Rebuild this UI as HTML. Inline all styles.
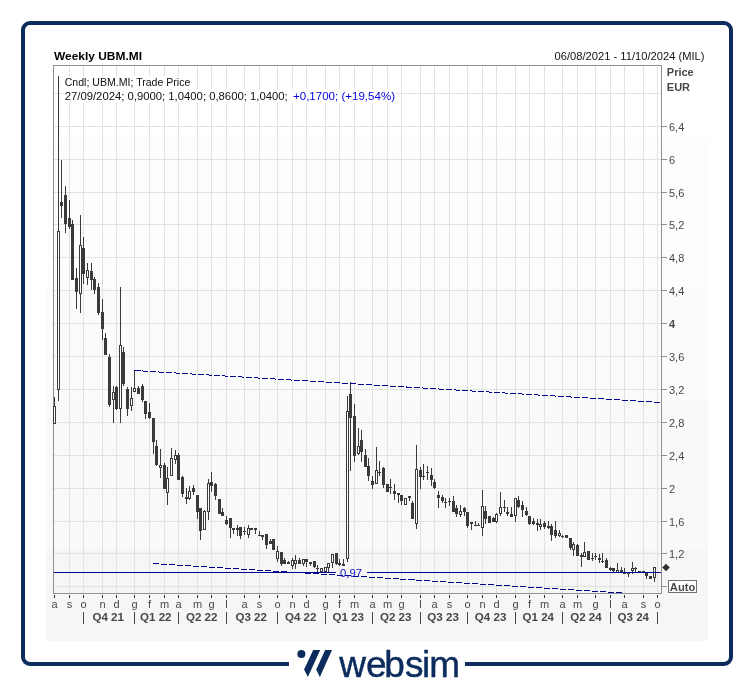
<!DOCTYPE html>
<html lang="it"><head><meta charset="utf-8"><title>Weekly UBM.MI</title>
<style>
html,body{margin:0;padding:0;background:#fff;}
body{width:754px;height:687px;position:relative;overflow:hidden;font-family:"Liberation Sans",sans-serif;}
#frame{position:absolute;left:21px;top:21px;width:704px;height:637px;border:4px solid #0b2c5c;border-radius:9px;}
#gap{position:absolute;left:289px;top:655px;width:176px;height:16px;background:#fff;}
#chartbg{position:absolute;left:46px;top:44px;width:662px;height:597px;background:linear-gradient(to bottom,#ffffff 0,#ffffff 94px,#fdfdfd 94px,#fdfdfd 244px,#fbfbfb 244px,#fbfbfb 356px,#f9f9f9 356px,#f9f9f9 506px,#f6f6f6 506px,#f6f6f6 100%);}
svg{position:absolute;left:0;top:0;}
text{font-family:"Liberation Sans",sans-serif;font-size:11px;}
.b{font-weight:bold;}
</style></head><body>
<div id="frame"></div><div id="gap"></div><div id="chartbg"></div>
<svg width="754" height="687" viewBox="0 0 754 687">
<g shape-rendering="crispEdges" fill="#e2e2e2">
<rect x="54" y="586" width="607" height="1"/>
<rect x="54" y="553" width="607" height="1"/>
<rect x="54" y="521" width="607" height="1"/>
<rect x="54" y="488" width="607" height="1"/>
<rect x="54" y="455" width="607" height="1"/>
<rect x="54" y="422" width="607" height="1"/>
<rect x="54" y="389" width="607" height="1"/>
<rect x="54" y="356" width="607" height="1"/>
<rect x="54" y="323" width="607" height="1"/>
<rect x="54" y="290" width="607" height="1"/>
<rect x="54" y="257" width="607" height="1"/>
<rect x="54" y="224" width="607" height="1"/>
<rect x="54" y="192" width="607" height="1"/>
<rect x="54" y="159" width="607" height="1"/>
<rect x="54" y="126" width="607" height="1"/>
<rect x="54" y="93" width="607" height="1"/>
<rect x="69" y="66" width="1" height="527"/>
<rect x="83" y="66" width="1" height="527"/>
<rect x="102" y="66" width="1" height="527"/>
<rect x="116" y="66" width="1" height="527"/>
<rect x="134" y="66" width="1" height="527"/>
<rect x="149" y="66" width="1" height="527"/>
<rect x="164" y="66" width="1" height="527"/>
<rect x="178" y="66" width="1" height="527"/>
<rect x="197" y="66" width="1" height="527"/>
<rect x="211" y="66" width="1" height="527"/>
<rect x="226" y="66" width="1" height="527"/>
<rect x="244" y="66" width="1" height="527"/>
<rect x="259" y="66" width="1" height="527"/>
<rect x="277" y="66" width="1" height="527"/>
<rect x="292" y="66" width="1" height="527"/>
<rect x="306" y="66" width="1" height="527"/>
<rect x="325" y="66" width="1" height="527"/>
<rect x="339" y="66" width="1" height="527"/>
<rect x="354" y="66" width="1" height="527"/>
<rect x="372" y="66" width="1" height="527"/>
<rect x="387" y="66" width="1" height="527"/>
<rect x="401" y="66" width="1" height="527"/>
<rect x="420" y="66" width="1" height="527"/>
<rect x="434" y="66" width="1" height="527"/>
<rect x="449" y="66" width="1" height="527"/>
<rect x="467" y="66" width="1" height="527"/>
<rect x="482" y="66" width="1" height="527"/>
<rect x="496" y="66" width="1" height="527"/>
<rect x="515" y="66" width="1" height="527"/>
<rect x="529" y="66" width="1" height="527"/>
<rect x="544" y="66" width="1" height="527"/>
<rect x="562" y="66" width="1" height="527"/>
<rect x="577" y="66" width="1" height="527"/>
<rect x="595" y="66" width="1" height="527"/>
<rect x="610" y="66" width="1" height="527"/>
<rect x="624" y="66" width="1" height="527"/>
<rect x="643" y="66" width="1" height="527"/>
<rect x="657" y="66" width="1" height="527"/>
</g>
<g shape-rendering="crispEdges" fill="#909090">
<rect x="53" y="65" width="609" height="1"/>
<rect x="53" y="593" width="609" height="1"/>
<rect x="53" y="65" width="1" height="529"/>
<rect x="661" y="65" width="1" height="529"/>
<rect x="662" y="586" width="5" height="1"/>
<rect x="662" y="553" width="5" height="1"/>
<rect x="662" y="521" width="5" height="1"/>
<rect x="662" y="488" width="5" height="1"/>
<rect x="662" y="455" width="5" height="1"/>
<rect x="662" y="422" width="5" height="1"/>
<rect x="662" y="389" width="5" height="1"/>
<rect x="662" y="356" width="5" height="1"/>
<rect x="662" y="323" width="5" height="1"/>
<rect x="662" y="290" width="5" height="1"/>
<rect x="662" y="257" width="5" height="1"/>
<rect x="662" y="224" width="5" height="1"/>
<rect x="662" y="192" width="5" height="1"/>
<rect x="662" y="159" width="5" height="1"/>
<rect x="662" y="126" width="5" height="1"/>
</g>
<g shape-rendering="crispEdges" fill="#303030">
<rect x="54" y="595" width="1" height="3"/>
<rect x="69" y="595" width="1" height="3"/>
<rect x="83" y="595" width="1" height="3"/>
<rect x="102" y="595" width="1" height="3"/>
<rect x="116" y="595" width="1" height="3"/>
<rect x="134" y="595" width="1" height="3"/>
<rect x="149" y="595" width="1" height="3"/>
<rect x="164" y="595" width="1" height="3"/>
<rect x="178" y="595" width="1" height="3"/>
<rect x="197" y="595" width="1" height="3"/>
<rect x="211" y="595" width="1" height="3"/>
<rect x="226" y="595" width="1" height="3"/>
<rect x="244" y="595" width="1" height="3"/>
<rect x="259" y="595" width="1" height="3"/>
<rect x="277" y="595" width="1" height="3"/>
<rect x="292" y="595" width="1" height="3"/>
<rect x="306" y="595" width="1" height="3"/>
<rect x="325" y="595" width="1" height="3"/>
<rect x="339" y="595" width="1" height="3"/>
<rect x="354" y="595" width="1" height="3"/>
<rect x="372" y="595" width="1" height="3"/>
<rect x="387" y="595" width="1" height="3"/>
<rect x="401" y="595" width="1" height="3"/>
<rect x="420" y="595" width="1" height="3"/>
<rect x="434" y="595" width="1" height="3"/>
<rect x="449" y="595" width="1" height="3"/>
<rect x="467" y="595" width="1" height="3"/>
<rect x="482" y="595" width="1" height="3"/>
<rect x="496" y="595" width="1" height="3"/>
<rect x="515" y="595" width="1" height="3"/>
<rect x="529" y="595" width="1" height="3"/>
<rect x="544" y="595" width="1" height="3"/>
<rect x="562" y="595" width="1" height="3"/>
<rect x="577" y="595" width="1" height="3"/>
<rect x="595" y="595" width="1" height="3"/>
<rect x="610" y="595" width="1" height="3"/>
<rect x="624" y="595" width="1" height="3"/>
<rect x="643" y="595" width="1" height="3"/>
<rect x="657" y="595" width="1" height="3"/>
</g>
<g shape-rendering="crispEdges" fill="#ffffff"><rect x="64" y="76" width="127" height="13"/><rect x="64" y="89" width="332" height="14"/></g>
<g shape-rendering="crispEdges">
<rect x="54" y="397" width="1" height="9" fill="#3a3a3a"/>
<rect x="53" y="406" width="3" height="18" fill="#3a3a3a"/>
<rect x="54" y="407" width="1" height="16" fill="#ffffff"/>
<rect x="58" y="76" width="1" height="155" fill="#3a3a3a"/>
<rect x="58" y="390" width="1" height="11" fill="#3a3a3a"/>
<rect x="57" y="231" width="3" height="159" fill="#3a3a3a"/>
<rect x="58" y="232" width="1" height="157" fill="#ffffff"/>
<rect x="61" y="160" width="1" height="58" fill="#3a3a3a"/>
<rect x="60" y="202" width="3" height="4" fill="#3a3a3a"/>
<rect x="65" y="186" width="1" height="47" fill="#3a3a3a"/>
<rect x="64" y="195" width="3" height="29" fill="#3a3a3a"/>
<rect x="69" y="200" width="1" height="29" fill="#3a3a3a"/>
<rect x="68" y="218" width="3" height="9" fill="#3a3a3a"/>
<rect x="72" y="220" width="1" height="60" fill="#3a3a3a"/>
<rect x="71" y="224" width="3" height="56" fill="#3a3a3a"/>
<rect x="76" y="268" width="1" height="41" fill="#3a3a3a"/>
<rect x="75" y="278" width="3" height="14" fill="#3a3a3a"/>
<rect x="80" y="215" width="1" height="30" fill="#3a3a3a"/>
<rect x="80" y="294" width="1" height="19" fill="#3a3a3a"/>
<rect x="79" y="245" width="3" height="49" fill="#3a3a3a"/>
<rect x="80" y="246" width="1" height="47" fill="#ffffff"/>
<rect x="83" y="237" width="1" height="47" fill="#3a3a3a"/>
<rect x="82" y="248" width="3" height="26" fill="#3a3a3a"/>
<rect x="87" y="263" width="1" height="7" fill="#3a3a3a"/>
<rect x="87" y="278" width="1" height="7" fill="#3a3a3a"/>
<rect x="86" y="270" width="3" height="8" fill="#3a3a3a"/>
<rect x="87" y="271" width="1" height="6" fill="#ffffff"/>
<rect x="91" y="263" width="1" height="27" fill="#3a3a3a"/>
<rect x="90" y="271" width="3" height="9" fill="#3a3a3a"/>
<rect x="94" y="277" width="1" height="17" fill="#3a3a3a"/>
<rect x="93" y="279" width="3" height="11" fill="#3a3a3a"/>
<rect x="98" y="283" width="1" height="32" fill="#3a3a3a"/>
<rect x="97" y="287" width="3" height="26" fill="#3a3a3a"/>
<rect x="102" y="299" width="1" height="41" fill="#3a3a3a"/>
<rect x="101" y="312" width="3" height="17" fill="#3a3a3a"/>
<rect x="105" y="333" width="1" height="22" fill="#3a3a3a"/>
<rect x="104" y="338" width="3" height="17" fill="#3a3a3a"/>
<rect x="109" y="354" width="1" height="53" fill="#3a3a3a"/>
<rect x="108" y="357" width="3" height="48" fill="#3a3a3a"/>
<rect x="113" y="386" width="1" height="6" fill="#3a3a3a"/>
<rect x="113" y="400" width="1" height="23" fill="#3a3a3a"/>
<rect x="112" y="392" width="3" height="8" fill="#3a3a3a"/>
<rect x="113" y="393" width="1" height="6" fill="#ffffff"/>
<rect x="116" y="386" width="1" height="24" fill="#3a3a3a"/>
<rect x="115" y="387" width="3" height="22" fill="#3a3a3a"/>
<rect x="120" y="287" width="1" height="58" fill="#3a3a3a"/>
<rect x="120" y="409" width="1" height="14" fill="#3a3a3a"/>
<rect x="119" y="345" width="3" height="64" fill="#3a3a3a"/>
<rect x="120" y="346" width="1" height="62" fill="#ffffff"/>
<rect x="123" y="347" width="1" height="39" fill="#3a3a3a"/>
<rect x="122" y="352" width="3" height="32" fill="#3a3a3a"/>
<rect x="127" y="387" width="1" height="29" fill="#3a3a3a"/>
<rect x="126" y="389" width="3" height="20" fill="#3a3a3a"/>
<rect x="131" y="387" width="1" height="11" fill="#3a3a3a"/>
<rect x="131" y="406" width="1" height="5" fill="#3a3a3a"/>
<rect x="130" y="398" width="3" height="8" fill="#3a3a3a"/>
<rect x="131" y="399" width="1" height="6" fill="#ffffff"/>
<rect x="134" y="370" width="1" height="18" fill="#3a3a3a"/>
<rect x="133" y="388" width="3" height="4" fill="#3a3a3a"/>
<rect x="134" y="389" width="1" height="2" fill="#ffffff"/>
<rect x="138" y="386" width="1" height="8" fill="#3a3a3a"/>
<rect x="137" y="388" width="3" height="6" fill="#3a3a3a"/>
<rect x="142" y="384" width="1" height="18" fill="#3a3a3a"/>
<rect x="141" y="386" width="3" height="14" fill="#3a3a3a"/>
<rect x="145" y="401" width="1" height="18" fill="#3a3a3a"/>
<rect x="144" y="401" width="3" height="13" fill="#3a3a3a"/>
<rect x="149" y="403" width="1" height="16" fill="#3a3a3a"/>
<rect x="148" y="412" width="3" height="6" fill="#3a3a3a"/>
<rect x="153" y="418" width="1" height="36" fill="#3a3a3a"/>
<rect x="152" y="418" width="3" height="24" fill="#3a3a3a"/>
<rect x="156" y="440" width="1" height="26" fill="#3a3a3a"/>
<rect x="155" y="446" width="3" height="19" fill="#3a3a3a"/>
<rect x="160" y="449" width="1" height="16" fill="#3a3a3a"/>
<rect x="160" y="468" width="1" height="10" fill="#3a3a3a"/>
<rect x="159" y="465" width="3" height="3" fill="#3a3a3a"/>
<rect x="160" y="466" width="1" height="1" fill="#ffffff"/>
<rect x="164" y="463" width="1" height="26" fill="#3a3a3a"/>
<rect x="163" y="465" width="3" height="24" fill="#3a3a3a"/>
<rect x="167" y="467" width="1" height="11" fill="#3a3a3a"/>
<rect x="167" y="493" width="1" height="12" fill="#3a3a3a"/>
<rect x="166" y="478" width="3" height="15" fill="#3a3a3a"/>
<rect x="167" y="479" width="1" height="13" fill="#ffffff"/>
<rect x="171" y="448" width="1" height="10" fill="#3a3a3a"/>
<rect x="170" y="458" width="3" height="18" fill="#3a3a3a"/>
<rect x="171" y="459" width="1" height="16" fill="#ffffff"/>
<rect x="175" y="450" width="1" height="5" fill="#3a3a3a"/>
<rect x="175" y="460" width="1" height="4" fill="#3a3a3a"/>
<rect x="174" y="455" width="3" height="5" fill="#3a3a3a"/>
<rect x="175" y="456" width="1" height="3" fill="#ffffff"/>
<rect x="178" y="453" width="1" height="27" fill="#3a3a3a"/>
<rect x="177" y="455" width="3" height="25" fill="#3a3a3a"/>
<rect x="182" y="476" width="1" height="21" fill="#3a3a3a"/>
<rect x="181" y="477" width="3" height="17" fill="#3a3a3a"/>
<rect x="186" y="488" width="1" height="16" fill="#3a3a3a"/>
<rect x="185" y="497" width="3" height="2" fill="#3a3a3a"/>
<rect x="189" y="486" width="1" height="5" fill="#3a3a3a"/>
<rect x="189" y="499" width="1" height="1" fill="#3a3a3a"/>
<rect x="188" y="491" width="3" height="8" fill="#3a3a3a"/>
<rect x="189" y="492" width="1" height="6" fill="#ffffff"/>
<rect x="193" y="485" width="1" height="10" fill="#3a3a3a"/>
<rect x="192" y="488" width="3" height="4" fill="#3a3a3a"/>
<rect x="197" y="495" width="1" height="24" fill="#3a3a3a"/>
<rect x="196" y="495" width="3" height="17" fill="#3a3a3a"/>
<rect x="200" y="508" width="1" height="32" fill="#3a3a3a"/>
<rect x="199" y="508" width="3" height="23" fill="#3a3a3a"/>
<rect x="204" y="510" width="1" height="1" fill="#3a3a3a"/>
<rect x="203" y="511" width="3" height="19" fill="#3a3a3a"/>
<rect x="204" y="512" width="1" height="17" fill="#ffffff"/>
<rect x="208" y="479" width="1" height="4" fill="#3a3a3a"/>
<rect x="208" y="512" width="1" height="8" fill="#3a3a3a"/>
<rect x="207" y="483" width="3" height="29" fill="#3a3a3a"/>
<rect x="208" y="484" width="1" height="27" fill="#ffffff"/>
<rect x="211" y="472" width="1" height="20" fill="#3a3a3a"/>
<rect x="210" y="482" width="3" height="4" fill="#3a3a3a"/>
<rect x="215" y="483" width="1" height="17" fill="#3a3a3a"/>
<rect x="214" y="484" width="3" height="12" fill="#3a3a3a"/>
<rect x="219" y="499" width="1" height="15" fill="#3a3a3a"/>
<rect x="218" y="499" width="3" height="15" fill="#3a3a3a"/>
<rect x="222" y="508" width="1" height="8" fill="#3a3a3a"/>
<rect x="221" y="512" width="3" height="4" fill="#3a3a3a"/>
<rect x="226" y="516" width="1" height="9" fill="#3a3a3a"/>
<rect x="225" y="520" width="3" height="4" fill="#3a3a3a"/>
<rect x="230" y="518" width="1" height="20" fill="#3a3a3a"/>
<rect x="229" y="518" width="3" height="10" fill="#3a3a3a"/>
<rect x="233" y="528" width="1" height="6" fill="#3a3a3a"/>
<rect x="232" y="528" width="3" height="2" fill="#3a3a3a"/>
<rect x="237" y="525" width="1" height="11" fill="#3a3a3a"/>
<rect x="236" y="528" width="3" height="2" fill="#3a3a3a"/>
<rect x="240" y="527" width="1" height="12" fill="#3a3a3a"/>
<rect x="239" y="527" width="3" height="9" fill="#3a3a3a"/>
<rect x="244" y="527" width="1" height="8" fill="#3a3a3a"/>
<rect x="243" y="531" width="3" height="1" fill="#3a3a3a"/>
<rect x="248" y="525" width="1" height="3" fill="#3a3a3a"/>
<rect x="248" y="535" width="1" height="3" fill="#3a3a3a"/>
<rect x="247" y="528" width="3" height="7" fill="#3a3a3a"/>
<rect x="248" y="529" width="1" height="5" fill="#ffffff"/>
<rect x="251" y="528" width="1" height="2" fill="#3a3a3a"/>
<rect x="250" y="528" width="3" height="2" fill="#3a3a3a"/>
<rect x="255" y="528" width="1" height="6" fill="#3a3a3a"/>
<rect x="254" y="528" width="3" height="2" fill="#3a3a3a"/>
<rect x="259" y="531" width="1" height="5" fill="#3a3a3a"/>
<rect x="258" y="535" width="3" height="1" fill="#3a3a3a"/>
<rect x="262" y="535" width="1" height="5" fill="#3a3a3a"/>
<rect x="261" y="535" width="3" height="2" fill="#3a3a3a"/>
<rect x="266" y="534" width="1" height="15" fill="#3a3a3a"/>
<rect x="265" y="534" width="3" height="11" fill="#3a3a3a"/>
<rect x="270" y="539" width="1" height="5" fill="#3a3a3a"/>
<rect x="269" y="541" width="3" height="3" fill="#3a3a3a"/>
<rect x="273" y="539" width="1" height="11" fill="#3a3a3a"/>
<rect x="272" y="539" width="3" height="11" fill="#3a3a3a"/>
<rect x="277" y="546" width="1" height="5" fill="#3a3a3a"/>
<rect x="277" y="559" width="1" height="3" fill="#3a3a3a"/>
<rect x="276" y="551" width="3" height="8" fill="#3a3a3a"/>
<rect x="277" y="552" width="1" height="6" fill="#ffffff"/>
<rect x="281" y="552" width="1" height="14" fill="#3a3a3a"/>
<rect x="280" y="552" width="3" height="12" fill="#3a3a3a"/>
<rect x="284" y="558" width="1" height="6" fill="#3a3a3a"/>
<rect x="283" y="560" width="3" height="4" fill="#3a3a3a"/>
<rect x="288" y="561" width="1" height="3" fill="#3a3a3a"/>
<rect x="287" y="562" width="3" height="2" fill="#3a3a3a"/>
<rect x="292" y="558" width="1" height="2" fill="#3a3a3a"/>
<rect x="292" y="566" width="1" height="3" fill="#3a3a3a"/>
<rect x="291" y="560" width="3" height="6" fill="#3a3a3a"/>
<rect x="292" y="561" width="1" height="4" fill="#ffffff"/>
<rect x="295" y="555" width="1" height="5" fill="#3a3a3a"/>
<rect x="295" y="564" width="1" height="5" fill="#3a3a3a"/>
<rect x="294" y="560" width="3" height="4" fill="#3a3a3a"/>
<rect x="295" y="561" width="1" height="2" fill="#ffffff"/>
<rect x="299" y="558" width="1" height="6" fill="#3a3a3a"/>
<rect x="298" y="560" width="3" height="4" fill="#3a3a3a"/>
<rect x="303" y="564" width="1" height="2" fill="#3a3a3a"/>
<rect x="302" y="559" width="3" height="5" fill="#3a3a3a"/>
<rect x="303" y="560" width="1" height="3" fill="#ffffff"/>
<rect x="306" y="559" width="1" height="8" fill="#3a3a3a"/>
<rect x="305" y="559" width="3" height="3" fill="#3a3a3a"/>
<rect x="310" y="562" width="1" height="4" fill="#3a3a3a"/>
<rect x="309" y="562" width="3" height="2" fill="#3a3a3a"/>
<rect x="314" y="561" width="1" height="7" fill="#3a3a3a"/>
<rect x="313" y="561" width="3" height="6" fill="#3a3a3a"/>
<rect x="317" y="565" width="1" height="7" fill="#3a3a3a"/>
<rect x="316" y="568" width="3" height="1" fill="#3a3a3a"/>
<rect x="320" y="568" width="3" height="4" fill="#3a3a3a"/>
<rect x="321" y="569" width="1" height="2" fill="#ffffff"/>
<rect x="324" y="567" width="3" height="5" fill="#3a3a3a"/>
<rect x="325" y="568" width="1" height="3" fill="#ffffff"/>
<rect x="328" y="568" width="1" height="4" fill="#3a3a3a"/>
<rect x="327" y="563" width="3" height="5" fill="#3a3a3a"/>
<rect x="328" y="564" width="1" height="3" fill="#ffffff"/>
<rect x="332" y="563" width="1" height="5" fill="#3a3a3a"/>
<rect x="331" y="554" width="3" height="9" fill="#3a3a3a"/>
<rect x="332" y="555" width="1" height="7" fill="#ffffff"/>
<rect x="336" y="553" width="1" height="12" fill="#3a3a3a"/>
<rect x="335" y="553" width="3" height="11" fill="#3a3a3a"/>
<rect x="339" y="559" width="1" height="7" fill="#3a3a3a"/>
<rect x="338" y="563" width="3" height="2" fill="#3a3a3a"/>
<rect x="343" y="559" width="1" height="7" fill="#3a3a3a"/>
<rect x="342" y="564" width="3" height="2" fill="#3a3a3a"/>
<rect x="347" y="396" width="1" height="15" fill="#3a3a3a"/>
<rect x="347" y="559" width="1" height="3" fill="#3a3a3a"/>
<rect x="346" y="411" width="3" height="148" fill="#3a3a3a"/>
<rect x="347" y="412" width="1" height="146" fill="#ffffff"/>
<rect x="350" y="382" width="1" height="89" fill="#3a3a3a"/>
<rect x="349" y="394" width="3" height="24" fill="#3a3a3a"/>
<rect x="354" y="404" width="1" height="58" fill="#3a3a3a"/>
<rect x="353" y="416" width="3" height="40" fill="#3a3a3a"/>
<rect x="358" y="428" width="1" height="18" fill="#3a3a3a"/>
<rect x="358" y="454" width="1" height="1" fill="#3a3a3a"/>
<rect x="357" y="446" width="3" height="8" fill="#3a3a3a"/>
<rect x="358" y="447" width="1" height="6" fill="#ffffff"/>
<rect x="361" y="430" width="1" height="32" fill="#3a3a3a"/>
<rect x="360" y="440" width="3" height="12" fill="#3a3a3a"/>
<rect x="365" y="449" width="1" height="18" fill="#3a3a3a"/>
<rect x="364" y="455" width="3" height="12" fill="#3a3a3a"/>
<rect x="368" y="458" width="1" height="23" fill="#3a3a3a"/>
<rect x="367" y="466" width="3" height="10" fill="#3a3a3a"/>
<rect x="372" y="476" width="1" height="13" fill="#3a3a3a"/>
<rect x="371" y="481" width="3" height="4" fill="#3a3a3a"/>
<rect x="376" y="447" width="1" height="23" fill="#3a3a3a"/>
<rect x="375" y="470" width="3" height="14" fill="#3a3a3a"/>
<rect x="376" y="471" width="1" height="12" fill="#ffffff"/>
<rect x="379" y="461" width="1" height="15" fill="#3a3a3a"/>
<rect x="378" y="472" width="3" height="1" fill="#3a3a3a"/>
<rect x="383" y="467" width="1" height="21" fill="#3a3a3a"/>
<rect x="382" y="468" width="3" height="17" fill="#3a3a3a"/>
<rect x="387" y="484" width="1" height="8" fill="#3a3a3a"/>
<rect x="386" y="484" width="3" height="8" fill="#3a3a3a"/>
<rect x="390" y="479" width="1" height="15" fill="#3a3a3a"/>
<rect x="389" y="487" width="3" height="1" fill="#3a3a3a"/>
<rect x="394" y="484" width="1" height="16" fill="#3a3a3a"/>
<rect x="393" y="491" width="3" height="3" fill="#3a3a3a"/>
<rect x="398" y="493" width="1" height="10" fill="#3a3a3a"/>
<rect x="397" y="493" width="3" height="2" fill="#3a3a3a"/>
<rect x="401" y="495" width="1" height="10" fill="#3a3a3a"/>
<rect x="400" y="495" width="3" height="6" fill="#3a3a3a"/>
<rect x="404" y="498" width="3" height="7" fill="#3a3a3a"/>
<rect x="405" y="499" width="1" height="5" fill="#ffffff"/>
<rect x="409" y="496" width="1" height="5" fill="#3a3a3a"/>
<rect x="408" y="496" width="3" height="2" fill="#3a3a3a"/>
<rect x="412" y="501" width="1" height="18" fill="#3a3a3a"/>
<rect x="411" y="503" width="3" height="16" fill="#3a3a3a"/>
<rect x="416" y="445" width="1" height="24" fill="#3a3a3a"/>
<rect x="416" y="524" width="1" height="5" fill="#3a3a3a"/>
<rect x="415" y="469" width="3" height="55" fill="#3a3a3a"/>
<rect x="416" y="470" width="1" height="53" fill="#ffffff"/>
<rect x="420" y="467" width="1" height="22" fill="#3a3a3a"/>
<rect x="419" y="470" width="3" height="7" fill="#3a3a3a"/>
<rect x="423" y="464" width="1" height="16" fill="#3a3a3a"/>
<rect x="422" y="476" width="3" height="1" fill="#3a3a3a"/>
<rect x="427" y="466" width="1" height="14" fill="#3a3a3a"/>
<rect x="426" y="472" width="3" height="1" fill="#3a3a3a"/>
<rect x="431" y="468" width="1" height="18" fill="#3a3a3a"/>
<rect x="430" y="475" width="3" height="5" fill="#3a3a3a"/>
<rect x="434" y="479" width="1" height="10" fill="#3a3a3a"/>
<rect x="433" y="482" width="3" height="6" fill="#3a3a3a"/>
<rect x="438" y="491" width="1" height="17" fill="#3a3a3a"/>
<rect x="437" y="495" width="3" height="3" fill="#3a3a3a"/>
<rect x="442" y="495" width="1" height="8" fill="#3a3a3a"/>
<rect x="441" y="497" width="3" height="4" fill="#3a3a3a"/>
<rect x="445" y="498" width="1" height="10" fill="#3a3a3a"/>
<rect x="444" y="502" width="3" height="1" fill="#3a3a3a"/>
<rect x="449" y="498" width="1" height="8" fill="#3a3a3a"/>
<rect x="448" y="501" width="3" height="1" fill="#3a3a3a"/>
<rect x="453" y="496" width="1" height="16" fill="#3a3a3a"/>
<rect x="452" y="501" width="3" height="11" fill="#3a3a3a"/>
<rect x="456" y="505" width="1" height="12" fill="#3a3a3a"/>
<rect x="455" y="508" width="3" height="6" fill="#3a3a3a"/>
<rect x="460" y="505" width="1" height="6" fill="#3a3a3a"/>
<rect x="460" y="515" width="1" height="2" fill="#3a3a3a"/>
<rect x="459" y="511" width="3" height="4" fill="#3a3a3a"/>
<rect x="460" y="512" width="1" height="2" fill="#ffffff"/>
<rect x="464" y="507" width="1" height="9" fill="#3a3a3a"/>
<rect x="463" y="508" width="3" height="4" fill="#3a3a3a"/>
<rect x="467" y="512" width="1" height="16" fill="#3a3a3a"/>
<rect x="466" y="512" width="3" height="14" fill="#3a3a3a"/>
<rect x="471" y="522" width="1" height="8" fill="#3a3a3a"/>
<rect x="470" y="522" width="3" height="2" fill="#3a3a3a"/>
<rect x="475" y="521" width="1" height="5" fill="#3a3a3a"/>
<rect x="474" y="525" width="3" height="1" fill="#3a3a3a"/>
<rect x="478" y="523" width="1" height="3" fill="#3a3a3a"/>
<rect x="477" y="525" width="3" height="1" fill="#3a3a3a"/>
<rect x="482" y="490" width="1" height="16" fill="#3a3a3a"/>
<rect x="482" y="528" width="1" height="8" fill="#3a3a3a"/>
<rect x="481" y="506" width="3" height="22" fill="#3a3a3a"/>
<rect x="482" y="507" width="1" height="20" fill="#ffffff"/>
<rect x="485" y="506" width="1" height="18" fill="#3a3a3a"/>
<rect x="484" y="511" width="3" height="8" fill="#3a3a3a"/>
<rect x="489" y="516" width="1" height="7" fill="#3a3a3a"/>
<rect x="488" y="516" width="3" height="7" fill="#3a3a3a"/>
<rect x="493" y="517" width="1" height="5" fill="#3a3a3a"/>
<rect x="492" y="518" width="3" height="4" fill="#3a3a3a"/>
<rect x="496" y="513" width="1" height="1" fill="#3a3a3a"/>
<rect x="496" y="522" width="1" height="1" fill="#3a3a3a"/>
<rect x="495" y="514" width="3" height="8" fill="#3a3a3a"/>
<rect x="496" y="515" width="1" height="6" fill="#ffffff"/>
<rect x="500" y="492" width="1" height="15" fill="#3a3a3a"/>
<rect x="500" y="514" width="1" height="2" fill="#3a3a3a"/>
<rect x="499" y="507" width="3" height="7" fill="#3a3a3a"/>
<rect x="500" y="508" width="1" height="5" fill="#ffffff"/>
<rect x="504" y="500" width="1" height="12" fill="#3a3a3a"/>
<rect x="503" y="507" width="3" height="1" fill="#3a3a3a"/>
<rect x="507" y="507" width="1" height="9" fill="#3a3a3a"/>
<rect x="506" y="512" width="3" height="2" fill="#3a3a3a"/>
<rect x="511" y="507" width="1" height="10" fill="#3a3a3a"/>
<rect x="510" y="514" width="3" height="3" fill="#3a3a3a"/>
<rect x="515" y="516" width="1" height="6" fill="#3a3a3a"/>
<rect x="514" y="498" width="3" height="18" fill="#3a3a3a"/>
<rect x="515" y="499" width="1" height="16" fill="#ffffff"/>
<rect x="518" y="496" width="1" height="12" fill="#3a3a3a"/>
<rect x="517" y="500" width="3" height="7" fill="#3a3a3a"/>
<rect x="522" y="501" width="1" height="16" fill="#3a3a3a"/>
<rect x="521" y="505" width="3" height="5" fill="#3a3a3a"/>
<rect x="526" y="507" width="1" height="9" fill="#3a3a3a"/>
<rect x="525" y="511" width="3" height="4" fill="#3a3a3a"/>
<rect x="529" y="516" width="1" height="9" fill="#3a3a3a"/>
<rect x="528" y="516" width="3" height="8" fill="#3a3a3a"/>
<rect x="533" y="518" width="1" height="7" fill="#3a3a3a"/>
<rect x="532" y="521" width="3" height="3" fill="#3a3a3a"/>
<rect x="537" y="519" width="1" height="12" fill="#3a3a3a"/>
<rect x="536" y="523" width="3" height="2" fill="#3a3a3a"/>
<rect x="540" y="519" width="1" height="5" fill="#3a3a3a"/>
<rect x="540" y="527" width="1" height="3" fill="#3a3a3a"/>
<rect x="539" y="524" width="3" height="3" fill="#3a3a3a"/>
<rect x="540" y="525" width="1" height="1" fill="#ffffff"/>
<rect x="544" y="521" width="1" height="8" fill="#3a3a3a"/>
<rect x="543" y="523" width="3" height="4" fill="#3a3a3a"/>
<rect x="548" y="521" width="1" height="8" fill="#3a3a3a"/>
<rect x="547" y="526" width="3" height="2" fill="#3a3a3a"/>
<rect x="551" y="524" width="1" height="17" fill="#3a3a3a"/>
<rect x="550" y="526" width="3" height="9" fill="#3a3a3a"/>
<rect x="555" y="521" width="1" height="17" fill="#3a3a3a"/>
<rect x="554" y="530" width="3" height="6" fill="#3a3a3a"/>
<rect x="559" y="530" width="1" height="3" fill="#3a3a3a"/>
<rect x="559" y="536" width="1" height="1" fill="#3a3a3a"/>
<rect x="558" y="533" width="3" height="3" fill="#3a3a3a"/>
<rect x="559" y="534" width="1" height="1" fill="#ffffff"/>
<rect x="562" y="535" width="1" height="3" fill="#3a3a3a"/>
<rect x="561" y="536" width="3" height="1" fill="#3a3a3a"/>
<rect x="566" y="535" width="1" height="3" fill="#3a3a3a"/>
<rect x="565" y="535" width="3" height="3" fill="#3a3a3a"/>
<rect x="570" y="538" width="1" height="12" fill="#3a3a3a"/>
<rect x="569" y="538" width="3" height="10" fill="#3a3a3a"/>
<rect x="573" y="542" width="1" height="2" fill="#3a3a3a"/>
<rect x="573" y="550" width="1" height="6" fill="#3a3a3a"/>
<rect x="572" y="544" width="3" height="6" fill="#3a3a3a"/>
<rect x="573" y="545" width="1" height="4" fill="#ffffff"/>
<rect x="577" y="544" width="1" height="12" fill="#3a3a3a"/>
<rect x="576" y="545" width="3" height="11" fill="#3a3a3a"/>
<rect x="581" y="553" width="1" height="14" fill="#3a3a3a"/>
<rect x="580" y="555" width="3" height="2" fill="#3a3a3a"/>
<rect x="584" y="542" width="1" height="10" fill="#3a3a3a"/>
<rect x="583" y="552" width="3" height="5" fill="#3a3a3a"/>
<rect x="584" y="553" width="1" height="3" fill="#ffffff"/>
<rect x="588" y="551" width="1" height="9" fill="#3a3a3a"/>
<rect x="587" y="551" width="3" height="9" fill="#3a3a3a"/>
<rect x="592" y="553" width="1" height="8" fill="#3a3a3a"/>
<rect x="591" y="558" width="3" height="1" fill="#3a3a3a"/>
<rect x="595" y="553" width="1" height="7" fill="#3a3a3a"/>
<rect x="594" y="556" width="3" height="1" fill="#3a3a3a"/>
<rect x="599" y="554" width="1" height="9" fill="#3a3a3a"/>
<rect x="598" y="558" width="3" height="2" fill="#3a3a3a"/>
<rect x="602" y="553" width="1" height="10" fill="#3a3a3a"/>
<rect x="601" y="561" width="3" height="1" fill="#3a3a3a"/>
<rect x="606" y="558" width="1" height="10" fill="#3a3a3a"/>
<rect x="605" y="560" width="3" height="8" fill="#3a3a3a"/>
<rect x="610" y="567" width="1" height="4" fill="#3a3a3a"/>
<rect x="609" y="568" width="3" height="2" fill="#3a3a3a"/>
<rect x="613" y="568" width="1" height="4" fill="#3a3a3a"/>
<rect x="612" y="568" width="3" height="3" fill="#3a3a3a"/>
<rect x="617" y="563" width="1" height="7" fill="#3a3a3a"/>
<rect x="616" y="570" width="3" height="3" fill="#3a3a3a"/>
<rect x="617" y="571" width="1" height="1" fill="#ffffff"/>
<rect x="621" y="567" width="1" height="6" fill="#3a3a3a"/>
<rect x="620" y="570" width="3" height="3" fill="#3a3a3a"/>
<rect x="624" y="568" width="1" height="6" fill="#3a3a3a"/>
<rect x="623" y="572" width="3" height="2" fill="#3a3a3a"/>
<rect x="628" y="572" width="1" height="5" fill="#3a3a3a"/>
<rect x="627" y="572" width="3" height="2" fill="#3a3a3a"/>
<rect x="632" y="562" width="1" height="6" fill="#3a3a3a"/>
<rect x="632" y="570" width="1" height="4" fill="#3a3a3a"/>
<rect x="631" y="568" width="3" height="3" fill="#3a3a3a"/>
<rect x="632" y="569" width="1" height="1" fill="#ffffff"/>
<rect x="635" y="567" width="1" height="5" fill="#3a3a3a"/>
<rect x="634" y="568" width="3" height="1" fill="#3a3a3a"/>
<rect x="639" y="571" width="1" height="1" fill="#3a3a3a"/>
<rect x="638" y="571" width="3" height="1" fill="#3a3a3a"/>
<rect x="643" y="571" width="1" height="2" fill="#3a3a3a"/>
<rect x="642" y="571" width="3" height="2" fill="#3a3a3a"/>
<rect x="646" y="573" width="1" height="6" fill="#3a3a3a"/>
<rect x="645" y="573" width="3" height="3" fill="#3a3a3a"/>
<rect x="650" y="576" width="1" height="3" fill="#3a3a3a"/>
<rect x="649" y="576" width="3" height="3" fill="#3a3a3a"/>
<rect x="654" y="578" width="1" height="4" fill="#3a3a3a"/>
<rect x="653" y="567" width="3" height="11" fill="#3a3a3a"/>
<rect x="654" y="568" width="1" height="9" fill="#ffffff"/>
</g>
<g shape-rendering="crispEdges" fill="#000090"><rect x="54" y="572" width="282" height="1"/><rect x="367" y="572" width="294" height="1"/></g>
<g fill="none" stroke="#000090" stroke-width="1" shape-rendering="crispEdges">
<line x1="134.5" y1="370.5" x2="661" y2="402.46" stroke-dasharray="6 2"/>
<line x1="153" y1="563.5" x2="622.5" y2="592.94" stroke-dasharray="6 2"/>
</g>
<text x="340" y="576.8" fill="#1010c8" textLength="22" lengthAdjust="spacingAndGlyphs">0,97</text>
<text class="b" x="54" y="60" fill="#000" textLength="88" lengthAdjust="spacingAndGlyphs">Weekly UBM.MI</text>
<text x="554.5" y="60" fill="#101010" textLength="150" lengthAdjust="spacingAndGlyphs">06/08/2021 - 11/10/2024 (MIL)</text>
<text x="64.7" y="86" fill="#101010" textLength="125.7" lengthAdjust="spacingAndGlyphs">Cndl; UBM.MI; Trade Price</text>
<text x="64.7" y="100" fill="#101010" textLength="223" lengthAdjust="spacingAndGlyphs">27/09/2024; 0,9000; 1,0400; 0,8600; 1,0400;</text>
<text x="293" y="100" fill="#0000e0" textLength="102" lengthAdjust="spacingAndGlyphs">+0,1700; (+19,54%)</text>
<text class="b" x="666.8" y="75.8" fill="#484848">Price</text>
<text class="b" x="666.8" y="91" fill="#484848">EUR</text>
<text x="669" y="557.5" fill="#484848">1,2</text>
<text x="669" y="525.5" fill="#484848">1,6</text>
<text x="669" y="492.5" fill="#484848">2</text>
<text x="669" y="459.5" fill="#484848">2,4</text>
<text x="669" y="426.5" fill="#484848">2,8</text>
<text x="669" y="393.5" fill="#484848">3,2</text>
<text x="669" y="360.5" fill="#484848">3,6</text>
<text class="b" x="669" y="327.5" fill="#484848">4</text>
<text x="669" y="294.5" fill="#484848">4,4</text>
<text x="669" y="261.5" fill="#484848">4,8</text>
<text x="669" y="228.5" fill="#484848">5,2</text>
<text x="669" y="196.5" fill="#484848">5,6</text>
<text x="669" y="163.5" fill="#484848">6</text>
<text x="669" y="130.5" fill="#484848">6,4</text>
<rect x="668.5" y="580.5" width="28" height="12" fill="#fff" stroke="#707070" stroke-width="1" shape-rendering="crispEdges"/>
<text class="b" x="669.8" y="590.5" fill="#484848" textLength="25.5" lengthAdjust="spacingAndGlyphs">Auto</text>
<polygon points="662.2,567.5 666,563.7 669.8,567.5 666,571.3" fill="#303030"/>
<text x="54.5" y="608" fill="#484848" text-anchor="middle">a</text>
<text x="69.5" y="608" fill="#484848" text-anchor="middle">s</text>
<text x="83.5" y="608" fill="#484848" text-anchor="middle">o</text>
<text x="102.5" y="608" fill="#484848" text-anchor="middle">n</text>
<text x="116.5" y="608" fill="#484848" text-anchor="middle">d</text>
<text x="134.5" y="608" fill="#484848" text-anchor="middle">g</text>
<text x="149.5" y="608" fill="#484848" text-anchor="middle">f</text>
<text x="164.5" y="608" fill="#484848" text-anchor="middle">m</text>
<text x="178.5" y="608" fill="#484848" text-anchor="middle">a</text>
<text x="197.5" y="608" fill="#484848" text-anchor="middle">m</text>
<text x="211.5" y="608" fill="#484848" text-anchor="middle">g</text>
<text x="226.5" y="608" fill="#484848" text-anchor="middle">l</text>
<text x="244.5" y="608" fill="#484848" text-anchor="middle">a</text>
<text x="259.5" y="608" fill="#484848" text-anchor="middle">s</text>
<text x="277.5" y="608" fill="#484848" text-anchor="middle">o</text>
<text x="292.5" y="608" fill="#484848" text-anchor="middle">n</text>
<text x="306.5" y="608" fill="#484848" text-anchor="middle">d</text>
<text x="325.5" y="608" fill="#484848" text-anchor="middle">g</text>
<text x="339.5" y="608" fill="#484848" text-anchor="middle">f</text>
<text x="354.5" y="608" fill="#484848" text-anchor="middle">m</text>
<text x="372.5" y="608" fill="#484848" text-anchor="middle">a</text>
<text x="387.5" y="608" fill="#484848" text-anchor="middle">m</text>
<text x="401.5" y="608" fill="#484848" text-anchor="middle">g</text>
<text x="420.5" y="608" fill="#484848" text-anchor="middle">l</text>
<text x="434.5" y="608" fill="#484848" text-anchor="middle">a</text>
<text x="449.5" y="608" fill="#484848" text-anchor="middle">s</text>
<text x="467.5" y="608" fill="#484848" text-anchor="middle">o</text>
<text x="482.5" y="608" fill="#484848" text-anchor="middle">n</text>
<text x="496.5" y="608" fill="#484848" text-anchor="middle">d</text>
<text x="515.5" y="608" fill="#484848" text-anchor="middle">g</text>
<text x="529.5" y="608" fill="#484848" text-anchor="middle">f</text>
<text x="544.5" y="608" fill="#484848" text-anchor="middle">m</text>
<text x="562.5" y="608" fill="#484848" text-anchor="middle">a</text>
<text x="577.5" y="608" fill="#484848" text-anchor="middle">m</text>
<text x="595.5" y="608" fill="#484848" text-anchor="middle">g</text>
<text x="610.5" y="608" fill="#484848" text-anchor="middle">l</text>
<text x="624.5" y="608" fill="#484848" text-anchor="middle">a</text>
<text x="643.5" y="608" fill="#484848" text-anchor="middle">s</text>
<text x="657.5" y="608" fill="#484848" text-anchor="middle">o</text>
<g shape-rendering="crispEdges" fill="#484848">
<rect x="83" y="612" width="1" height="12"/>
<rect x="134" y="612" width="1" height="12"/>
<rect x="178" y="612" width="1" height="12"/>
<rect x="226" y="612" width="1" height="12"/>
<rect x="277" y="612" width="1" height="12"/>
<rect x="325" y="612" width="1" height="12"/>
<rect x="372" y="612" width="1" height="12"/>
<rect x="420" y="612" width="1" height="12"/>
<rect x="467" y="612" width="1" height="12"/>
<rect x="515" y="612" width="1" height="12"/>
<rect x="562" y="612" width="1" height="12"/>
<rect x="610" y="612" width="1" height="12"/>
<rect x="657" y="612" width="1" height="12"/>
</g>
<text class="b" x="108.2" y="620.6" fill="#484848" text-anchor="middle" textLength="31.5" lengthAdjust="spacingAndGlyphs">Q4 21</text>
<text class="b" x="155.8" y="620.6" fill="#484848" text-anchor="middle" textLength="31.5" lengthAdjust="spacingAndGlyphs">Q1 22</text>
<text class="b" x="201.7" y="620.6" fill="#484848" text-anchor="middle" textLength="31.5" lengthAdjust="spacingAndGlyphs">Q2 22</text>
<text class="b" x="251.2" y="620.6" fill="#484848" text-anchor="middle" textLength="31.5" lengthAdjust="spacingAndGlyphs">Q3 22</text>
<text class="b" x="300.7" y="620.6" fill="#484848" text-anchor="middle" textLength="31.5" lengthAdjust="spacingAndGlyphs">Q4 22</text>
<text class="b" x="348.2" y="620.6" fill="#484848" text-anchor="middle" textLength="31.5" lengthAdjust="spacingAndGlyphs">Q1 23</text>
<text class="b" x="395.7" y="620.6" fill="#484848" text-anchor="middle" textLength="31.5" lengthAdjust="spacingAndGlyphs">Q2 23</text>
<text class="b" x="443.1" y="620.6" fill="#484848" text-anchor="middle" textLength="31.5" lengthAdjust="spacingAndGlyphs">Q3 23</text>
<text class="b" x="490.6" y="620.6" fill="#484848" text-anchor="middle" textLength="31.5" lengthAdjust="spacingAndGlyphs">Q4 23</text>
<text class="b" x="538.3" y="620.6" fill="#484848" text-anchor="middle" textLength="31.5" lengthAdjust="spacingAndGlyphs">Q1 24</text>
<text class="b" x="585.9" y="620.6" fill="#484848" text-anchor="middle" textLength="31.5" lengthAdjust="spacingAndGlyphs">Q2 24</text>
<text class="b" x="633.3" y="620.6" fill="#484848" text-anchor="middle" textLength="31.5" lengthAdjust="spacingAndGlyphs">Q3 24</text>
<g fill="#0b2c5c">
<circle cx="301.4" cy="653.9" r="4"/>
<polygon points="313.2,650.1 320.2,650.1 307.9,677 304.1,669.5"/>
<polygon points="325.2,650.1 332,650.1 319.85,677 316.2,669.5"/>
<text x="339.2 366.1 384.2 405.1 421.9 429.3" y="677" style="font-size:37px" stroke="#0b2c5c" stroke-width="0.45">websim</text>
</g>
</svg></body></html>
